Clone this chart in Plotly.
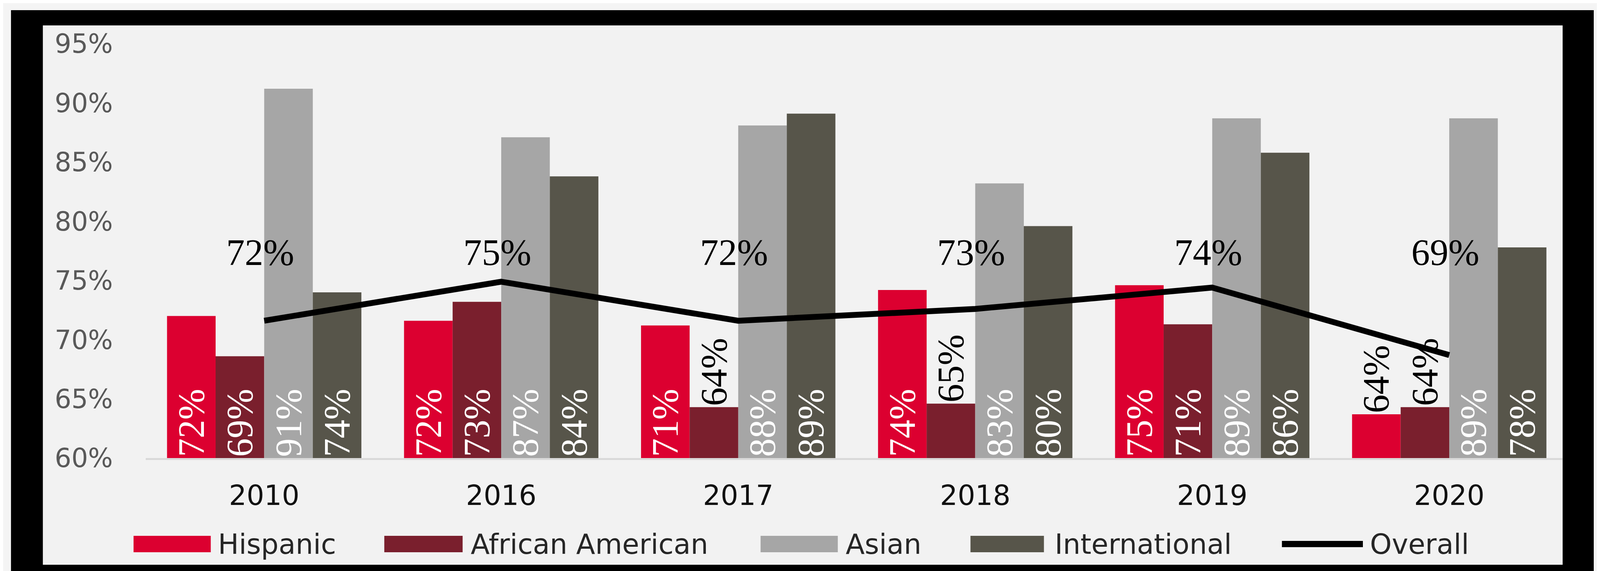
import plotly.graph_objects as go

# ---------------- data ----------------
years = ["2010", "2016", "2017", "2018", "2019", "2020"]
hispanic = [72.0, 71.6, 71.2, 74.2, 74.6, 63.7]
african_american = [68.6, 73.2, 64.3, 64.6, 71.3, 64.3]
asian = [91.2, 87.1, 88.1, 83.2, 88.7, 88.7]
international = [74.0, 83.8, 89.1, 79.6, 85.8, 77.8]
overall = [71.6, 74.9, 71.6, 72.6, 74.4, 68.7]

series_names = ["Hispanic", "African American", "Asian", "International"]
series_values = [hispanic, african_american, asian, international]
series_colors = ["#DC0030", "#7A1F2D", "#A6A6A6", "#57554A"]
overall_name = "Overall"
overall_color = "#000000"

y_ticks = [60, 65, 70, 75, 80, 85, 90, 95]

# ---------------- layout geometry ----------------
# reference measured in a 4269-wide frame; the browser viewport is 4096 wide
REF_W = 4269
W, H = 4096, 1461
SX = W / REF_W
CAT_L, CAT_R = 380, 4175          # category band extent (reference px)
FRAME_IN_R = 4161                 # inner edge of right frame (reference px)
CAT_W = (CAT_R - CAT_L) / len(years)
PL, PR, PT, PB = round(CAT_L * SX), round(FRAME_IN_R * SX), 104, 1164
X_MAX = len(years) - 0.5 - (CAT_R - FRAME_IN_R) / CAT_W
AXIS_MIN, AXIS_MAX = 60, 95


def px_x(px):
    """reference x pixel -> paper fraction"""
    return (px * SX - PL) / (PR - PL)


def px_y(py):
    return (PB - py) / (PB - PT)


fig = go.Figure()

for name, vals, col in zip(series_names, series_values, series_colors):
    positions = ["inside" if v - AXIS_MIN >= 6 else "outside" for v in vals]
    fig.add_trace(go.Bar(
        name=name,
        x=list(range(len(years))),
        y=[v - AXIS_MIN for v in vals],
        base=AXIS_MIN,
        marker=dict(color=col, line=dict(width=0)),
        text=[f"{v:.0f}%" for v in vals],
        textposition=positions,
        textangle=-90,
        insidetextanchor="start",
        insidetextfont=dict(family="Liberation Serif", size=95, color="#FFFFFF"),
        outsidetextfont=dict(family="Liberation Serif", size=95, color="#000000"),
        constraintext="none",
        cliponaxis=False,
        showlegend=False,
        hoverinfo="skip",
    ))

fig.add_trace(go.Scatter(
    name=overall_name,
    x=list(range(len(years))),
    y=overall,
    mode="lines",
    line=dict(color=overall_color, width=15),
    showlegend=False,
    hoverinfo="skip",
))

annotations = []
for i, v in enumerate(overall):
    annotations.append(dict(
        x=i, xref="x", y=px_y(638), yref="paper",
        text=f"{v:.0f}%", showarrow=False, xshift=-11 * SX,
        xanchor="center", yanchor="middle",
        font=dict(family="Liberation Serif", size=95, color="#000000"),
    ))

shapes = [
    dict(type="rect", xref="paper", yref="paper",
         x0=px_x(21), x1=px_x(4244), y0=px_y(1480), y1=px_y(18),
         fillcolor="#000000", line=dict(width=0), layer="below"),
    dict(type="rect", xref="paper", yref="paper",
         x0=px_x(106), x1=px_x(FRAME_IN_R), y0=px_y(1437), y1=px_y(57),
         fillcolor="#F2F2F2", line=dict(width=0), layer="below"),
]

# custom legend (large swatches as in the reference)
legend_slots = [(348, 554, 571), (1017, 1226, 1245), (2021, 2227, 2246),
                (2581, 2777, 2804), (3412, 3628, 3645)]
leg_names = series_names + [overall_name]
leg_colors = series_colors + [overall_color]
LEG_Y0, LEG_Y1, LEG_YC = 1363, 1405, 1384
for i, (nm, col, (sx0, sx1, tx)) in enumerate(zip(leg_names, leg_colors, legend_slots)):
    if i < len(series_names):
        shapes.append(dict(type="rect", xref="paper", yref="paper",
                           x0=px_x(sx0), x1=px_x(sx1), y0=px_y(LEG_Y1), y1=px_y(LEG_Y0),
                           fillcolor=col, line=dict(width=0)))
    else:
        shapes.append(dict(type="line", xref="paper", yref="paper",
                           x0=px_x(sx0), x1=px_x(sx1), y0=px_y(LEG_YC), y1=px_y(LEG_YC),
                           line=dict(color=col, width=16)))
    annotations.append(dict(
        x=px_x(tx), xref="paper", y=px_y(LEG_YC), yref="paper",
        text=nm, showarrow=False, xanchor="left", yanchor="middle",
        font=dict(family="DejaVu Sans", size=71, color="#262626"),
    ))

fig.update_layout(
    width=W, height=H,
    margin=dict(l=PL, r=W - PR, t=PT, b=H - PB, pad=0),
    paper_bgcolor="#F4F4F4",
    plot_bgcolor="rgba(0,0,0,0)",
    barmode="group",
    bargap=0.18,
    bargroupgap=0,
    showlegend=False,
    shapes=shapes,
    annotations=annotations,
    xaxis=dict(
        range=[-0.5, X_MAX],
        tickvals=list(range(len(years))),
        ticktext=years,
        showgrid=False, zeroline=False,
        showline=True, linecolor="#D9D9D9", linewidth=5,
        ticks="", ticklabelstandoff=30,
        tickfont=dict(family="DejaVu Sans", size=71, color="#111111"),
    ),
    yaxis=dict(
        range=[AXIS_MIN, AXIS_MAX],
        tickvals=y_ticks,
        ticktext=[f"{t}%" for t in y_ticks],
        showgrid=False, zeroline=False, showline=False,
        ticks="", ticklabelstandoff=int(round(86 * SX)),
        tickfont=dict(family="DejaVu Sans", size=67, color="#595959"),
    ),
)

fig.write_html("out.html")
